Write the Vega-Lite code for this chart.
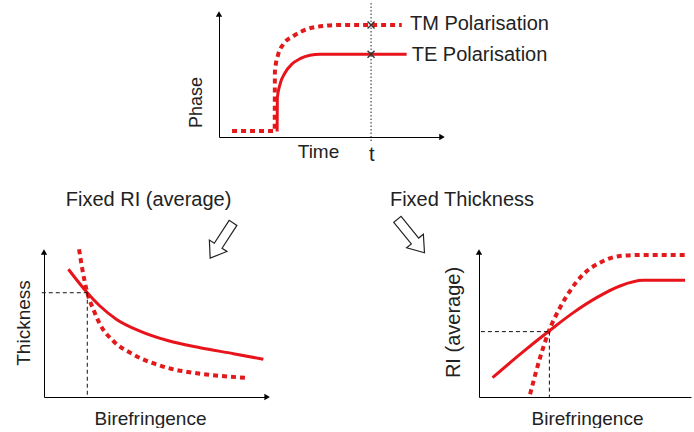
{
  "$schema": "https://vega.github.io/schema/vega-lite/v6.json",
  "padding": {"left": 14, "top": 0, "right": 0, "bottom": 0},
  "background": "white",
  "bounds": "flush",
  "spacing": 238,
  "config": {
    "view": {"stroke": null},
    "axis": {"domainColor": "#000", "domainWidth": 1, "ticks": false, "labels": false, "grid": false, "titleFont": "Liberation Sans", "titleFontSize": 19, "titleFontWeight": "normal", "titleColor": "#222", "titleBaseline": "middle", "titleAlign": "center"},
    "text": {"font": "Liberation Sans", "fontSize": 20, "color": "#222"},
    "line": {"interpolate": "monotone"}
  },
  "datasets": {
    "phase": [
      {"pol": "TM", "i": 0, "time": 0.59, "phase": 0.49},
      {"pol": "TM", "i": 1, "time": 2.52, "phase": 0.49},
      {"pol": "TM", "i": 2, "time": 2.53, "phase": 5.41},
      {"pol": "TM", "i": 3, "time": 2.68, "phase": 6.78},
      {"pol": "TM", "i": 4, "time": 2.91, "phase": 7.6},
      {"pol": "TM", "i": 5, "time": 3.37, "phase": 8.28},
      {"pol": "TM", "i": 6, "time": 3.97, "phase": 8.83},
      {"pol": "TM", "i": 7, "time": 4.72, "phase": 9.1},
      {"pol": "TM", "i": 8, "time": 5.47, "phase": 9.18},
      {"pol": "TM", "i": 9, "time": 8.27, "phase": 9.18},
      {"pol": "TE", "i": 0, "time": 2.63, "phase": 0.45},
      {"pol": "TE", "i": 1, "time": 2.64, "phase": 3.22},
      {"pol": "TE", "i": 2, "time": 2.76, "phase": 4.32},
      {"pol": "TE", "i": 3, "time": 2.99, "phase": 5.27},
      {"pol": "TE", "i": 4, "time": 3.29, "phase": 5.96},
      {"pol": "TE", "i": 5, "time": 3.67, "phase": 6.42},
      {"pol": "TE", "i": 6, "time": 4.12, "phase": 6.7},
      {"pol": "TE", "i": 7, "time": 4.57, "phase": 6.78},
      {"pol": "TE", "i": 8, "time": 8.49, "phase": 6.78}
    ],
    "phaseCross": [
      {"time": 6.88, "phase": 9.18},
      {"time": 6.88, "phase": 6.78}
    ],
    "phaseT": [{"time": 6.88, "phase": -0.33, "hi": 11.15}],
    "phaseLabels": [
      {"label": "TM Polarisation", "time": 8.64, "phase": 9.3},
      {"label": "TE Polarisation", "time": 8.72, "phase": 6.72}
    ],
    "phaseTick": [{"label": "t", "time": 6.91, "phase": -1.48}],
    "phaseArrows": [
      {"kind": "up", "time": 0, "phase": 10.08},
      {"kind": "right", "time": 10.09, "phase": 0}
    ],
    "thick": [
      {"pol": "TE", "i": 0, "biref": 1.1, "thickness": 8.87},
      {"pol": "TE", "i": 1, "biref": 1.95, "thickness": 7.24},
      {"pol": "TE", "i": 2, "biref": 2.52, "thickness": 6.32},
      {"pol": "TE", "i": 3, "biref": 3.27, "thickness": 5.39},
      {"pol": "TE", "i": 4, "biref": 4.32, "thickness": 4.58},
      {"pol": "TE", "i": 5, "biref": 5.53, "thickness": 3.94},
      {"pol": "TE", "i": 6, "biref": 7.03, "thickness": 3.42},
      {"pol": "TE", "i": 7, "biref": 8.53, "thickness": 3.01},
      {"pol": "TE", "i": 8, "biref": 9.88, "thickness": 2.62},
      {"pol": "TM", "i": 0, "biref": 1.58, "thickness": 10.26},
      {"pol": "TM", "i": 1, "biref": 1.74, "thickness": 8.75},
      {"pol": "TM", "i": 2, "biref": 1.95, "thickness": 7.24},
      {"pol": "TM", "i": 3, "biref": 2.22, "thickness": 6.09},
      {"pol": "TM", "i": 4, "biref": 2.52, "thickness": 5.05},
      {"pol": "TM", "i": 5, "biref": 3.12, "thickness": 3.89},
      {"pol": "TM", "i": 6, "biref": 4.02, "thickness": 2.96},
      {"pol": "TM", "i": 7, "biref": 5.53, "thickness": 2.04},
      {"pol": "TM", "i": 8, "biref": 7.03, "thickness": 1.62},
      {"pol": "TM", "i": 9, "biref": 9.05, "thickness": 1.34}
    ],
    "thickGuide": [
      {"biref": -0.1, "thickness": 7.24, "biref2": 1.95, "thickness2": 7.24},
      {"biref": 1.95, "thickness": 7.24, "biref2": 1.95, "thickness2": 0}
    ],
    "thickArrows": [
      {"kind": "up", "biref": 0, "thickness": 10.07},
      {"kind": "right", "biref": 10.05, "thickness": 0}
    ],
    "thickNote": [{"label": "Fixed RI (average)", "biref": 4.71, "thickness": 13.68, "angle": 123, "ax": 8.0, "ay": 10.87}],
    "ri": [
      {"pol": "TE", "i": 0, "biref": 0.64, "ri": 1.34},
      {"pol": "TE", "i": 1, "biref": 1.93, "ri": 2.96},
      {"pol": "TE", "i": 2, "biref": 3.32, "ri": 4.6},
      {"pol": "TE", "i": 3, "biref": 4.45, "ri": 5.86},
      {"pol": "TE", "i": 4, "biref": 5.55, "ri": 6.9},
      {"pol": "TE", "i": 5, "biref": 6.65, "ri": 7.71},
      {"pol": "TE", "i": 6, "biref": 7.75, "ri": 8.1},
      {"pol": "TE", "i": 7, "biref": 9.72, "ri": 8.1},
      {"pol": "TM", "i": 0, "biref": 2.41, "ri": 0.19},
      {"pol": "TM", "i": 1, "biref": 2.88, "ri": 2.73},
      {"pol": "TM", "i": 2, "biref": 3.27, "ri": 4.47},
      {"pol": "TM", "i": 3, "biref": 3.82, "ri": 6.2},
      {"pol": "TM", "i": 4, "biref": 4.29, "ri": 7.36},
      {"pol": "TM", "i": 5, "biref": 4.92, "ri": 8.52},
      {"pol": "TM", "i": 6, "biref": 5.71, "ri": 9.33},
      {"pol": "TM", "i": 7, "biref": 6.65, "ri": 9.79},
      {"pol": "TM", "i": 8, "biref": 7.59, "ri": 9.86},
      {"pol": "TM", "i": 9, "biref": 9.72, "ri": 9.86}
    ],
    "riGuide": [
      {"biref": 0.09, "ri": 4.54, "biref2": 3.32, "ri2": 4.54},
      {"biref": 3.32, "ri": 4.54, "biref2": 3.32, "ri2": 0}
    ],
    "riArrows": [{"kind": "up", "biref": 0, "ri": 10.07}],
    "riNote": [{"label": "Fixed Thickness", "biref": -4.2, "ri": 13.68, "angle": 51, "ax": -3.21, "ay": 11.18}]
  },
  "vconcat": [
    {
      "bounds": "flush",
      "spacing": 20,
      "hconcat": [
        {"width": 155, "height": 10, "data": {"values": [{"a": 1}]}, "mark": {"type": "point", "opacity": 0}},
        {
          "width": 221,
          "height": 122,
          "layer": [
            {
              "data": {"name": "phase"},
              "transform": [{"filter": "datum.pol === 'TM'"}],
              "mark": {"type": "line", "color": "#e31a1c", "strokeWidth": 4, "strokeDash": [5, 4]},
              "encoding": {
                "x": {"field": "time", "type": "quantitative", "scale": {"domain": [0, 10], "nice": false, "zero": false}, "axis": {"title": "Time", "titleX": 99, "titleY": 14.5}},
                "y": {"field": "phase", "type": "quantitative", "scale": {"domain": [0, 10], "nice": false, "zero": false}, "axis": {"title": "Phase", "titleX": -23, "titleY": 87, "titleFontSize": 18}},
                "order": {"field": "i", "type": "quantitative"}
              }
            },
            {
              "data": {"name": "phase"},
              "transform": [{"filter": "datum.pol === 'TE'"}],
              "mark": {"type": "line", "color": "#e8141c", "strokeWidth": 3},
              "encoding": {
                "x": {"field": "time", "type": "quantitative"},
                "y": {"field": "phase", "type": "quantitative"},
                "order": {"field": "i", "type": "quantitative"}
              }
            },
            {
              "data": {"name": "phaseT"},
              "mark": {"type": "rule", "color": "#222", "strokeWidth": 1, "strokeDash": [1.5, 2]},
              "encoding": {
                "x": {"field": "time", "type": "quantitative"},
                "y": {"field": "phase", "type": "quantitative"},
                "y2": {"field": "hi"}
              }
            },
            {
              "data": {"name": "phaseCross"},
              "mark": {"type": "point", "shape": "M-1,-1L1,1M-1,1L1,-1", "filled": false, "color": "#333", "strokeWidth": 1.4, "size": 49, "opacity": 1},
              "encoding": {
                "x": {"field": "time", "type": "quantitative"},
                "y": {"field": "phase", "type": "quantitative"}
              }
            },
            {
              "data": {"name": "phaseArrows"},
              "mark": {"type": "point", "filled": true, "color": "#000", "size": 40, "opacity": 1},
              "encoding": {
                "x": {"field": "time", "type": "quantitative"},
                "y": {"field": "phase", "type": "quantitative"},
                "shape": {"field": "kind", "type": "nominal", "scale": {"domain": ["up", "right"], "range": ["triangle-up", "triangle-right"]}, "legend": null}
              }
            },
            {
              "data": {"name": "phaseLabels"},
              "mark": {"type": "text", "align": "left", "baseline": "middle"},
              "encoding": {
                "x": {"field": "time", "type": "quantitative"},
                "y": {"field": "phase", "type": "quantitative"},
                "text": {"field": "label"}
              }
            },
            {
              "data": {"name": "phaseTick"},
              "mark": {"type": "text", "align": "center", "baseline": "middle"},
              "encoding": {
                "x": {"field": "time", "type": "quantitative"},
                "y": {"field": "phase", "type": "quantitative"},
                "text": {"field": "label"}
              }
            }
          ]
        }
      ]
    },
    {
      "bounds": "flush",
      "spacing": 213,
      "hconcat": [
        {
          "width": 222,
          "height": 144,
          "layer": [
            {
              "data": {"name": "thick"},
              "transform": [{"filter": "datum.pol === 'TM'"}],
              "mark": {"type": "line", "color": "#e31a1c", "strokeWidth": 4, "strokeDash": [5, 4]},
              "encoding": {
                "x": {"field": "biref", "type": "quantitative", "scale": {"domain": [0, 10], "nice": false, "zero": false}, "axis": {"title": "Birefringence", "titleX": 106, "titleY": 21}},
                "y": {"field": "thickness", "type": "quantitative", "scale": {"domain": [0, 10], "nice": false, "zero": false}, "axis": {"title": "Thickness", "titleX": -20.5, "titleY": 69.5}},
                "order": {"field": "i", "type": "quantitative"}
              }
            },
            {
              "data": {"name": "thick"},
              "transform": [{"filter": "datum.pol === 'TE'"}],
              "mark": {"type": "line", "color": "#e8141c", "strokeWidth": 3},
              "encoding": {
                "x": {"field": "biref", "type": "quantitative"},
                "y": {"field": "thickness", "type": "quantitative"},
                "order": {"field": "i", "type": "quantitative"}
              }
            },
            {
              "data": {"name": "thickGuide"},
              "mark": {"type": "rule", "color": "#111", "strokeWidth": 1, "strokeDash": [4, 3]},
              "encoding": {
                "x": {"field": "biref", "type": "quantitative"},
                "y": {"field": "thickness", "type": "quantitative"},
                "x2": {"field": "biref2"},
                "y2": {"field": "thickness2"}
              }
            },
            {
              "data": {"name": "thickArrows"},
              "mark": {"type": "point", "filled": true, "color": "#000", "size": 40, "opacity": 1},
              "encoding": {
                "x": {"field": "biref", "type": "quantitative"},
                "y": {"field": "thickness", "type": "quantitative"},
                "shape": {"field": "kind", "type": "nominal", "scale": {"domain": ["up", "right"], "range": ["triangle-up", "triangle-right"]}, "legend": null}
              }
            },
            {
              "data": {"name": "thickNote"},
              "mark": {"type": "text", "align": "center", "baseline": "middle"},
              "encoding": {
                "x": {"field": "biref", "type": "quantitative"},
                "y": {"field": "thickness", "type": "quantitative"},
                "text": {"field": "label"}
              }
            },
            {
              "data": {"name": "thickNote"},
              "mark": {"type": "point", "shape": "M-1,-0.22L0.3,-0.22L0.3,-0.5L1,0L0.3,0.5L0.3,0.22L-1,0.22Z", "filled": true, "fill": "#fff", "stroke": "#222", "strokeWidth": 1.2, "size": 1764, "opacity": 1},
              "encoding": {
                "x": {"field": "ax", "type": "quantitative"},
                "y": {"field": "ay", "type": "quantitative"},
                "angle": {"field": "angle", "type": "quantitative", "scale": null}
              }
            }
          ]
        },
        {
          "width": 212,
          "height": 144,
          "layer": [
            {
              "data": {"name": "ri"},
              "transform": [{"filter": "datum.pol === 'TM'"}],
              "mark": {"type": "line", "color": "#e31a1c", "strokeWidth": 4, "strokeDash": [5, 4]},
              "encoding": {
                "x": {"field": "biref", "type": "quantitative", "scale": {"domain": [0, 10], "nice": false, "zero": false}, "axis": {"title": "Birefringence", "titleX": 108, "titleY": 21}},
                "y": {"field": "ri", "type": "quantitative", "scale": {"domain": [0, 10], "nice": false, "zero": false}, "axis": {"title": "RI (average)", "titleX": -26, "titleY": 69, "titleFontSize": 20}},
                "order": {"field": "i", "type": "quantitative"}
              }
            },
            {
              "data": {"name": "ri"},
              "transform": [{"filter": "datum.pol === 'TE'"}],
              "mark": {"type": "line", "color": "#e8141c", "strokeWidth": 3},
              "encoding": {
                "x": {"field": "biref", "type": "quantitative"},
                "y": {"field": "ri", "type": "quantitative"},
                "order": {"field": "i", "type": "quantitative"}
              }
            },
            {
              "data": {"name": "riGuide"},
              "mark": {"type": "rule", "color": "#111", "strokeWidth": 1, "strokeDash": [4, 3]},
              "encoding": {
                "x": {"field": "biref", "type": "quantitative"},
                "y": {"field": "ri", "type": "quantitative"},
                "x2": {"field": "biref2"},
                "y2": {"field": "ri2"}
              }
            },
            {
              "data": {"name": "riArrows"},
              "mark": {"type": "point", "filled": true, "color": "#000", "size": 40, "opacity": 1, "shape": "triangle-up"},
              "encoding": {
                "x": {"field": "biref", "type": "quantitative"},
                "y": {"field": "ri", "type": "quantitative"}
              }
            },
            {
              "data": {"name": "riNote"},
              "mark": {"type": "text", "align": "left", "baseline": "middle"},
              "encoding": {
                "x": {"field": "biref", "type": "quantitative"},
                "y": {"field": "ri", "type": "quantitative"},
                "text": {"field": "label"}
              }
            },
            {
              "data": {"name": "riNote"},
              "mark": {"type": "point", "shape": "M-1,-0.22L0.3,-0.22L0.3,-0.5L1,0L0.3,0.5L0.3,0.22L-1,0.22Z", "filled": true, "fill": "#fff", "stroke": "#222", "strokeWidth": 1.2, "size": 1849, "opacity": 1},
              "encoding": {
                "x": {"field": "ax", "type": "quantitative"},
                "y": {"field": "ay", "type": "quantitative"},
                "angle": {"field": "angle", "type": "quantitative", "scale": null}
              }
            }
          ]
        }
      ]
    }
  ]
}
